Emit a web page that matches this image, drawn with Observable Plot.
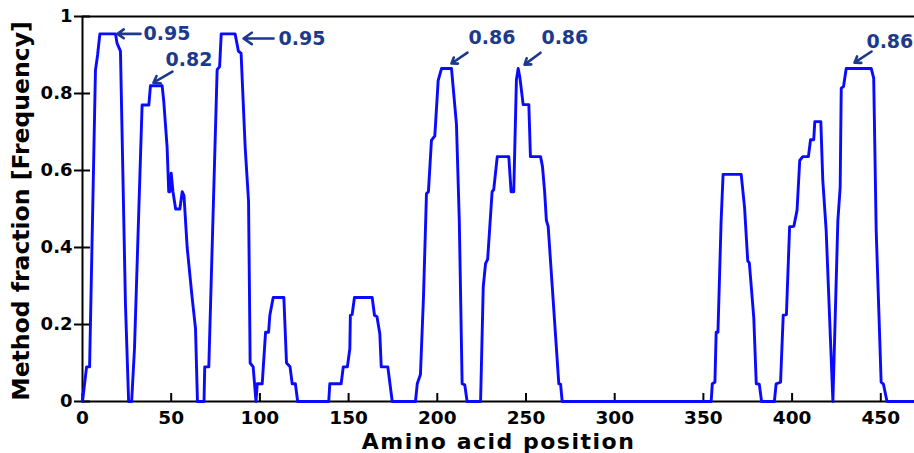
<!DOCTYPE html>
<html><head><meta charset="utf-8">
<script src="https://cdn.jsdelivr.net/npm/d3@7"></script>
<script src="https://cdn.jsdelivr.net/npm/@observablehq/plot@0.6"></script>
<style>body{margin:0;background:#fff} svg{display:block}</style>
</head><body><div id="chart"></div>
<script>
const position = [0,2.3,4.0,7.3,8.5,9.8,18.6,19.5,21.4,24.2,26.0,27.7,29.3,33.6,37.4,38.3,44.9,45.8,47.7,48.6,49.3,50.0,51.0,52.5,54.9,56.2,57.2,59.0,61.8,63.7,64.8,68.5,68.9,71.2,75.9,77.3,78.2,86.0,87.9,89.4,91.7,93.6,94.3,94.5,96.2,97.8,98.5,101.3,103.2,104.9,105.6,107.5,113.5,115.0,117.0,118.2,120.0,121.3,138.8,139.4,145.8,147.0,149.3,150.7,151.0,152.0,153.3,163.3,164.6,166.0,167.6,168.4,172.1,174.6,187.7,188.7,190.5,192.2,193.9,195.0,196.7,198.6,200.5,202.4,208.0,210.8,212.4,214.0,215.5,216.8,224.4,225.9,227.2,228.4,230.9,231.8,233.8,240.3,241.6,243.1,244.6,245.6,246.6,248.4,251.6,252.5,258.2,259.3,260.5,261.5,262.5,268.5,269.5,270.4,354.4,355.0,356.5,357.2,358.2,360.0,361.1,371.3,373.2,375.0,375.9,378.4,379.8,381.5,382.8,390.0,391.0,393.5,395.0,396.8,398.6,401.0,402.8,404.3,406.0,409.2,410.4,412.2,412.8,416.2,417.3,419.2,423.0,425.8,427.1,427.7,429.0,430.5,444.6,446.0,447.4,450.2,451.5,453.5,469];
const fraction = [0,0.09,0.09,0.86,0.90,0.955,0.955,0.93,0.91,0.255,0,0,0.137,0.77,0.77,0.82,0.82,0.78,0.66,0.545,0.545,0.593,0.545,0.50,0.50,0.545,0.535,0.40,0.27,0.19,0,0,0.09,0.09,0.862,0.87,0.955,0.955,0.91,0.904,0.66,0.52,0.20,0.10,0.09,0,0.046,0.046,0.18,0.18,0.224,0.27,0.27,0.10,0.09,0.046,0.046,0,0,0.046,0.046,0.09,0.09,0.137,0.224,0.226,0.27,0.27,0.224,0.22,0.176,0.09,0.09,0,0,0.046,0.07,0.27,0.54,0.545,0.678,0.69,0.834,0.865,0.865,0.72,0.47,0.046,0.043,0,0,0.298,0.358,0.37,0.545,0.55,0.636,0.636,0.545,0.545,0.836,0.865,0.84,0.771,0.771,0.636,0.636,0.61,0.545,0.47,0.455,0.046,0.045,0,0,0.046,0.05,0.18,0.18,0.47,0.59,0.59,0.504,0.365,0.36,0.218,0.046,0.045,0,0,0.046,0.05,0.224,0.226,0.454,0.455,0.497,0.626,0.636,0.636,0.68,0.68,0.727,0.727,0.575,0.445,0,0.47,0.556,0.814,0.818,0.865,0.865,0.84,0.445,0.05,0.045,0,0];

const xTicks = [0,50,100,150,200,250,300,350,400,450];
const yTicks = [0,0.2,0.4,0.6,0.8,1];

const annLabels = ["0.95","0.82","0.95","0.86","0.86","0.86"];
const annTextX = [34.4,46.8,110.5,217.6,258.7,441.9];
const annTextY = [0.955,0.888,0.943,0.945,0.945,0.935];
const arrowX1 = [32.7,50.7,107.7,217,258.2,444.8];
const arrowY1 = [0.955,0.857,0.943,0.906,0.906,0.909];
const arrowX2 = [19.7,40.0,90.8,208,249.2,435.2];
const arrowY2 = [0.955,0.828,0.943,0.878,0.875,0.880];

const xTitle = "Amino acid position";
const yTitle = "Method fraction [Frequency]";

const data = position.map((x, i) => ({x, y: fraction[i]}));
const ann = annLabels.map((t, i) => ({t, tx: annTextX[i], ty: annTextY[i], x1: arrowX1[i], y1: arrowY1[i], x2: arrowX2[i], y2: arrowY2[i]}));
const navy = "#1c3a8c";
const font = "'DejaVu Sans', sans-serif";

const chart = Plot.plot({
  width: 914, height: 453,
  marginLeft: 82, marginRight: 0, marginTop: 16, marginBottom: 52,
  style: {fontFamily: font, background: "white", overflow: "visible"},
  x: {domain: [0, 469]},
  y: {domain: [0, 1]},
  marks: [
    Plot.ruleY([0, 1], {stroke: "black", strokeWidth: 2}),
    Plot.ruleX([0], {stroke: "black", strokeWidth: 2}),
    Plot.axisX(xTicks, {tickSize: 8, dy: -8, tickFormat: () => "", strokeWidth: 2, label: null}),
    Plot.axisX(xTicks, {tickSize: 0, tickPadding: 9, fontSize: 18.5, fontWeight: "bold", label: null}),
    Plot.axisY(yTicks, {tickSize: 16, dx: 8, tickFormat: () => "", strokeWidth: 2, label: null}),
    Plot.axisY(yTicks, {tickSize: 0, tickPadding: 10, fontSize: 18, fontWeight: "bold", tickFormat: d => String(d), label: null}),
    Plot.line(data, {x: "x", y: "y", stroke: "#0a0aff", strokeWidth: 2.9}),
    Plot.arrow(ann, {x1: "x1", y1: "y1", x2: "x2", y2: "y2", stroke: navy, strokeWidth: 2.6, headLength: 9, headAngle: 70}),
    Plot.text(ann, {x: "tx", y: "ty", text: "t", fill: navy, fontSize: 19, fontWeight: "bold", textAnchor: "start", lineAnchor: "middle"}),
    Plot.text([xTitle], {text: d => d, frameAnchor: "bottom", dy: 47.5, textAnchor: "middle", lineAnchor: "bottom", fontSize: 22, fontWeight: "bold", fill: "black"}),
    Plot.text([yTitle], {text: d => d, frameAnchor: "left", dx: -61, dy: 2, rotate: -90, textAnchor: "middle", lineAnchor: "middle", fontSize: 23.5, fontWeight: "bold", fill: "black"})
  ]
});
d3.select(chart).selectAll("text").filter(function() { return this.textContent === xTitle; }).style("letter-spacing", "1.5px");
document.getElementById("chart").appendChild(chart);
</script>
</body></html>
